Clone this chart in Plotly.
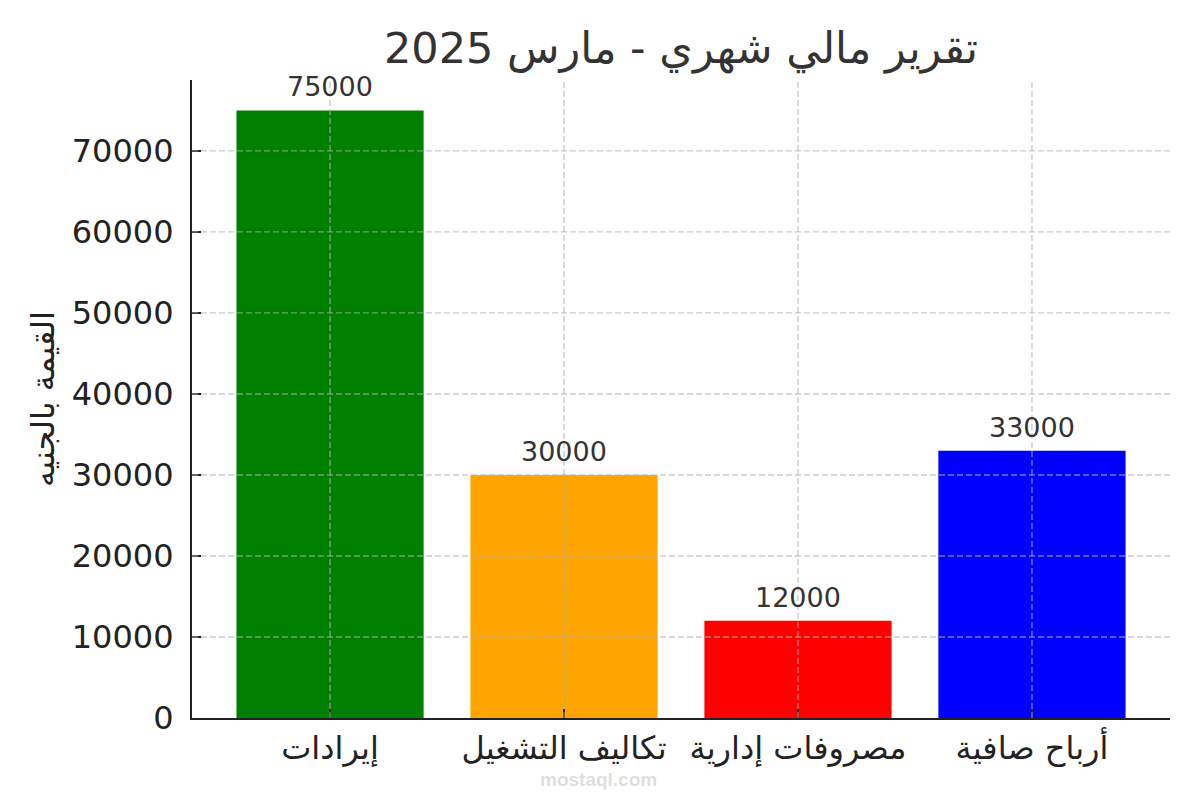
import plotly.graph_objects as go

categories = ["إيرادات", "تكاليف التشغيل", "مصروفات إدارية", "أرباح صافية"]
values = [75000, 30000, 12000, 33000]
colors = ["#008000", "#FFA500", "#FF0000", "#0000FF"]
y_ticks = [0, 10000, 20000, 30000, 40000, 50000, 60000, 70000]
title_text = "تقرير مالي شهري - مارس 2025"
y_title = "القيمة بالجنيه"
watermark = "mostaql.com"

FONT = "DejaVu Sans"
xpos = list(range(len(categories)))

fig = go.Figure()
fig.add_trace(go.Bar(
    x=xpos, y=values, marker=dict(color=colors, line=dict(width=0)),
    width=0.8, showlegend=False, hoverinfo="skip",
))

# value labels
for xi, v in zip(xpos, values):
    fig.add_annotation(x=xi, y=v, text=str(v), showarrow=False,
                       yanchor="bottom", yshift=6,
                       font=dict(family=FONT, size=27, color="#333333"))

grid = dict(color="rgba(176,176,176,0.65)", width=1.4, dash="6px,3px")
shapes = []
for xi in xpos:
    shapes.append(dict(type="line", xref="x", yref="paper", x0=xi, x1=xi, y0=0, y1=1,
                       line=grid, layer="above"))
for t in y_ticks[1:]:
    shapes.append(dict(type="line", xref="paper", yref="y", x0=0, x1=1, y0=t, y1=t,
                       line=grid, layer="above"))

# faint watermark
fig.add_annotation(xref="paper", yref="paper", x=0.416, y=-0.097, yanchor="middle",
                   text="<b>" + watermark + "</b>",
                   showarrow=False, font=dict(family="Liberation Sans", size=19,
                                              color="rgba(200,200,200,0.6)"))

fig.update_layout(
    width=1200, height=800,
    paper_bgcolor="white", plot_bgcolor="white",
    margin=dict(l=192, r=30, t=80, b=82),
    title=dict(text=title_text, x=(192 + 1170) / 2 / 1200, xanchor="center",
               y=1 - 48 / 800, yanchor="middle",
               font=dict(family=FONT, size=43, color="#333333")),
    font=dict(family=FONT, color="#222222"),
    shapes=shapes,
    bargap=0.2,
)
fig.update_xaxes(
    range=[-0.59, 3.59], tickmode="array", tickvals=xpos, ticktext=categories,
    showgrid=False, zeroline=False,
    showline=True, linecolor="#222222", linewidth=2.2,
    ticks="inside", ticklen=9, tickwidth=2, tickcolor="#222222",
    tickfont=dict(family=FONT, size=32, color="#222222"),
    ticklabelstandoff=0,
)
fig.update_yaxes(
    range=[0, 78750], tickmode="array", tickvals=y_ticks, ticktext=[str(t) for t in y_ticks],
    showgrid=False, zeroline=False,
    showline=True, linecolor="#222222", linewidth=2.2,
    ticks="inside", ticklen=9, tickwidth=2, tickcolor="#222222",
    tickfont=dict(family=FONT, size=32, color="#222222"),
    ticklabelstandoff=10,
    title=dict(text=y_title, standoff=8, font=dict(family=FONT, size=32, color="#222222")),
)

fig.write_html("out.html")
